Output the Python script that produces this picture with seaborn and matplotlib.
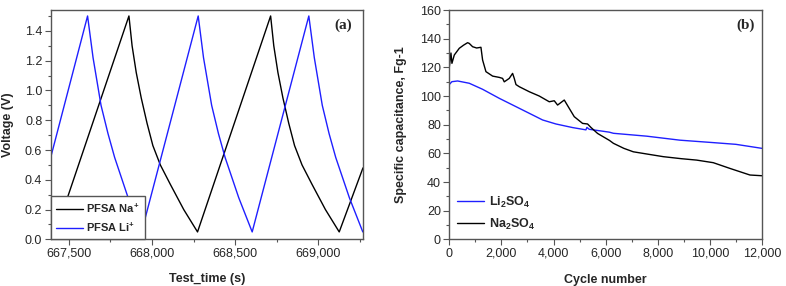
import matplotlib

matplotlib.use("Agg")
import matplotlib.pyplot as plt
import pandas as pd
import seaborn as sns
from matplotlib.ticker import MultipleLocator, StrMethodFormatter

# panel (a): galvanostatic charge/discharge
na_time = [667390, 667421, 667861, 667880, 667905, 667935, 667970, 668005, 668050,
           668110, 668191, 668274,
           668714, 668733, 668758, 668788, 668823, 668858, 668903, 668963, 669044,
           669127, 669270]
na_volt = [0.10, 0.05, 1.50, 1.30, 1.12, 0.95, 0.78, 0.63, 0.50,
           0.37, 0.20, 0.05,
           1.50, 1.30, 1.12, 0.95, 0.78, 0.63, 0.50, 0.37, 0.20,
           0.05, 0.48]
li_time = [667390, 667612, 667645, 667693, 667735, 667775, 667856, 667937,
           668278, 668310, 668359, 668400, 668440, 668522, 668603,
           668944, 668977, 669025, 669066, 669106, 669188, 669269]
li_volt = [0.55, 1.50, 1.22, 0.90, 0.71, 0.55, 0.28, 0.05,
           1.50, 1.22, 0.90, 0.71, 0.55, 0.28, 0.05,
           1.50, 1.22, 0.90, 0.71, 0.55, 0.28, 0.05]

# panel (b): capacitance retention
na2so4_cycle = [0, 64, 102, 192, 384, 550, 703, 767, 895, 1050, 1215, 1279, 1407, 1663,
                1918, 2046, 2110, 2302, 2430, 2494, 2560, 2686, 3070, 3453, 3837, 4029,
                4157, 4413, 4604, 4796, 5116, 5308, 5436, 5692, 6150, 6300, 6700, 7062,
                7600, 8213, 8900, 9495, 10132, 10772, 11540, 12000]
na2so4_cap = [120, 130, 122.8, 128.6, 133.3, 135.5, 137.2, 136.7, 134.4, 133.5, 134, 125.1,
              117, 113.9, 113, 112.3, 109.9, 112.3, 115.8, 112.3, 108, 106.5, 103, 100, 96,
              96.7, 93.7, 97.2, 91.4, 85.6, 80.9, 80.5, 78.1, 73.9, 69, 67, 63.5, 61.1,
              59.5, 57.7, 56.3, 55.3, 53.5, 49.5, 44.9, 44.4]
li2so4_cycle = [0, 100, 320, 767, 1279, 1918, 2558, 3197, 3581, 4093, 4732, 5244, 5282,
                5372, 6139, 6300, 7575, 8854, 10132, 11000, 12000]
li2so4_cap = [108, 110, 110.5, 108.9, 104.7, 98.4, 92.6, 86.8, 83.3, 80.5, 78, 76.4, 78.1,
              76.8, 74.8, 74, 72, 69.2, 67.5, 66.3, 63.5]

BLUE = "#1f1fff"
SPINE = "#555555"

sns.set_style("ticks")
plt.rcParams["font.family"] = ["Liberation Sans", "DejaVu Sans"]
plt.rcParams["mathtext.fontset"] = "custom"
plt.rcParams["mathtext.rm"] = "Liberation Sans"
plt.rcParams["mathtext.bf"] = "Liberation Sans:bold"


def style_axes(ax):
    for side in ["left", "right", "top", "bottom"]:
        ax.spines[side].set_visible(True)
        ax.spines[side].set_color(SPINE)
        ax.spines[side].set_linewidth(1.0)
    ax.tick_params(which="major", direction="out", length=4, width=0.8,
                   color=SPINE, labelsize=9, pad=2)
    ax.tick_params(which="minor", direction="out", length=2.5, width=0.8, color=SPINE)
    ax.tick_params(top=False, right=False)


fig = plt.figure(figsize=(7.86, 2.86), dpi=100)
ax_a = fig.add_axes([0.0645, 0.163, 0.3973, 0.802])
ax_b = fig.add_axes([0.5716, 0.163, 0.3978, 0.802])

# (a)
df_na = pd.DataFrame({"t": na_time, "v": na_volt})
df_li = pd.DataFrame({"t": li_time, "v": li_volt})
sns.lineplot(data=df_na, x="t", y="v", ax=ax_a, color="black", linewidth=1.0,
             estimator=None, label=r"PFSA Na$^\mathbf{+}$")
sns.lineplot(data=df_li, x="t", y="v", ax=ax_a, color=BLUE, linewidth=1.0,
             estimator=None, label=r"PFSA Li$^\mathbf{+}$")
ax_a.set_xlim(667390, 669270)
ax_a.set_ylim(0, 1.54)
ax_a.xaxis.set_major_locator(MultipleLocator(500))
ax_a.xaxis.set_minor_locator(MultipleLocator(250))
ax_a.yaxis.set_major_locator(MultipleLocator(0.2))
ax_a.yaxis.set_minor_locator(MultipleLocator(0.1))
ax_a.xaxis.set_major_formatter(StrMethodFormatter("{x:,.0f}"))
ax_a.yaxis.set_major_formatter(StrMethodFormatter("{x:.1f}"))
ax_a.set_xlabel("Test_time (s)", fontsize=9, fontweight="bold")
ax_a.set_ylabel("Voltage (V)", fontsize=9, fontweight="bold")
ax_a.xaxis.set_label_coords(0.5, -0.147)
ax_a.yaxis.set_label_coords(-0.118, 0.5)
style_axes(ax_a)
leg_a = ax_a.legend(loc="lower left", borderaxespad=0, frameon=True, fancybox=False,
                    fontsize=8, handlelength=2.4, handletextpad=0.3,
                    labelspacing=0.5, borderpad=0.5)
leg_a.get_frame().set_edgecolor(SPINE)
leg_a.get_frame().set_linewidth(1.0)
leg_a.get_frame().set_alpha(1.0)
for txt in leg_a.get_texts():
    txt.set_fontweight("bold")
ax_a.text(0.936, 0.935, "(a)", transform=ax_a.transAxes, ha="center", va="center",
          fontsize=11, fontweight="bold", family=["Liberation Serif", "DejaVu Serif"])

# (b)
df_li2 = pd.DataFrame({"c": li2so4_cycle, "cap": li2so4_cap})
df_na2 = pd.DataFrame({"c": na2so4_cycle, "cap": na2so4_cap})
sns.lineplot(data=df_li2, x="c", y="cap", ax=ax_b, color=BLUE, linewidth=1.0,
             estimator=None, label=r"Li$_\mathbf{2}$SO$_\mathbf{4}$")
sns.lineplot(data=df_na2, x="c", y="cap", ax=ax_b, color="black", linewidth=1.0,
             estimator=None, label=r"Na$_\mathbf{2}$SO$_\mathbf{4}$")
ax_b.set_xlim(0, 12000)
ax_b.set_ylim(0, 160)
ax_b.xaxis.set_major_locator(MultipleLocator(2000))
ax_b.xaxis.set_minor_locator(MultipleLocator(1000))
ax_b.yaxis.set_major_locator(MultipleLocator(20))
ax_b.yaxis.set_minor_locator(MultipleLocator(10))
ax_b.xaxis.set_major_formatter(StrMethodFormatter("{x:,.0f}"))
ax_b.set_xlabel("Cycle number", fontsize=9, fontweight="bold")
ax_b.set_ylabel("Specific capacitance, Fg-1", fontsize=9, fontweight="bold")
ax_b.xaxis.set_label_coords(0.5, -0.151)
ax_b.yaxis.set_label_coords(-0.135, 0.5)
style_axes(ax_b)
leg_b = ax_b.legend(loc="lower left", bbox_to_anchor=(0.0, 0.0), borderaxespad=0.2,
                    frameon=False, fontsize=9, handlelength=2.2, handletextpad=0.4,
                    labelspacing=0.55)
for txt in leg_b.get_texts():
    txt.set_fontweight("bold")
ax_b.text(0.946, 0.935, "(b)", transform=ax_b.transAxes, ha="center", va="center",
          fontsize=11, fontweight="bold", family=["Liberation Serif", "DejaVu Serif"])

fig.savefig("out.png", dpi=100)
